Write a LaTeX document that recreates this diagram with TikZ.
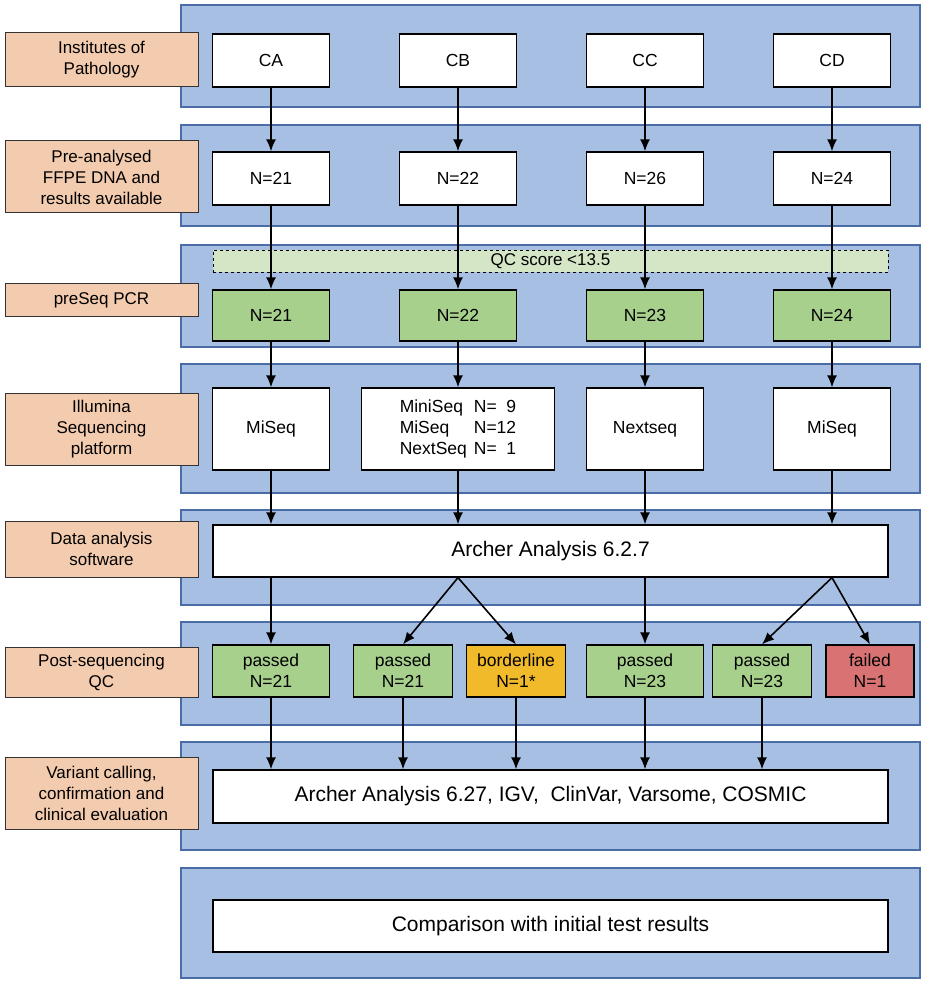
\documentclass[tikz,border=0pt]{standalone}
\usepackage{fontspec}
\setmainfont{Liberation Sans}
\usetikzlibrary{arrows.meta}
\usetikzlibrary{positioning}
\definecolor{bandblue}{HTML}{A7BFE2}
\definecolor{bandline}{HTML}{4A6DA7}
\definecolor{labfill}{HTML}{F3CBAE}
\definecolor{okgreen}{HTML}{A8D08D}
\definecolor{qcgreen}{HTML}{D4E6C6}
\definecolor{bordery}{HTML}{F0BA2A}
\definecolor{failred}{HTML}{D97373}
\tikzset{
  band/.style={draw=bandline,fill=bandblue,line width=1.6pt},
  lab/.style={draw=black!80,fill=labfill,line width=1pt,align=center,inner sep=1pt,font=\fontsize{17}{21}\selectfont},
  box/.style={draw=black,fill=white,line width=1.3pt,align=center,inner sep=1pt,font=\fontsize{17.5}{21}\selectfont},
  flow/.style={-{Latex[length=12pt,width=10pt]},line width=1.6pt}
}
\begin{document}
\begin{tikzpicture}[x=1pt,y=-1pt]
        \useasboundingbox (0,0) rectangle (926,984);
        % bands
        \foreach \ya/\yb in {5/107,125/226,245/347,364/493,510/605,622/725,742/850,868/978}
            \fill[band] (181,\ya) rectangle (920,\yb);
        % row labels
        \node [lab,minimum width=193,minimum height=54] (l1) at (101.5,60) {Institutes of\\Pathology};
        \node [lab,minimum width=193,minimum height=72] (l2) at (101.5,177) {Pre-analysed\\FFPE DNA and\\results available};
        \node [lab,minimum width=193,minimum height=33] (l3) at (101.5,300) {preSeq PCR};
        \node [lab,minimum width=193,minimum height=72] (l4) at (101.5,429) {Illumina\\Sequencing\\platform};
        \node [lab,minimum width=193,minimum height=56] (l5) at (101.5,549) {Data analysis\\software};
        \node [lab,minimum width=193,minimum height=50] (l6) at (101.5,672) {Post-sequencing\\QC};
        \node [lab,minimum width=193,minimum height=72] (l7) at (101.5,793) {Variant calling,\\confirmation and\\clinical evaluation};
        % institutes
        \foreach \n/\x/\t in {a/271/CA,b/458/CB,c/645/CC,d/832/CD}
            \node [box,minimum width=117,minimum height=53] (i\n) at (\x,60.5) {\t};
        \foreach \n/\x/\t in {a/271/21,b/458/22,c/645/26,d/832/24}
            \node [box,minimum width=117,minimum height=53] (s\n) at (\x,178.5) {N=\t};
        \node [draw=black,dashed,fill=qcgreen,minimum width=675,minimum height=22,inner sep=0pt,font=\fontsize{17}{19}\selectfont] (qc) at (550.5,261) {QC score <13.5};
        \foreach \n/\x/\t in {a/271/21,b/458/22,c/645/23,d/832/24}
            \node [box,fill=okgreen,minimum width=117,minimum height=51] (p\n) at (\x,315.5) {N=\t};
        % platforms
        \node [box,minimum width=117,minimum height=82] (ma) at (271,429) {MiSeq};
        \node [box,minimum width=193,minimum height=82,align=left] (mb) at (458,429)
            {\begin{tabular}{@{}l@{\hspace{7pt}}l@{}}MiniSeq&N=\hphantom{1}9\\MiSeq&N=12\\NextSeq&N=\hphantom{1}1\end{tabular}};
        \node [box,minimum width=117,minimum height=82] (mc) at (645,429) {Nextseq};
        \node [box,minimum width=117,minimum height=82] (md) at (832,429) {MiSeq};
        \node [box,minimum width=675,minimum height=52,font=\fontsize{21}{24}\selectfont] (arch) at (550.5,551) {Archer Analysis 6.2.7};
        % post-sequencing QC
        \node [box,fill=okgreen,minimum width=117,minimum height=52] (qa) at (271,671) {passed\\N=21};
        \node [box,fill=okgreen,minimum width=99,minimum height=52] (qb) at (403,671) {passed\\N=21};
        \node [box,fill=bordery,minimum width=99,minimum height=52] (qbb) at (516,671) {borderline\\N=1*};
        \node [box,fill=okgreen,minimum width=117,minimum height=52] (qc1) at (645,671) {passed\\N=23};
        \node [box,fill=okgreen,minimum width=99,minimum height=52] (qd) at (762,671) {passed\\N=23};
        \node [box,fill=failred,minimum width=88,minimum height=52] (qdf) at (870,671) {failed\\N=1};
        \node [box,minimum width=675,minimum height=53,font=\fontsize{21}{24}\selectfont] (var) at (550.5,796.5) {Archer Analysis 6.27, IGV,\ \ ClinVar, Varsome, COSMIC};
        \node [box,minimum width=675,minimum height=52,font=\fontsize{21}{24}\selectfont] (cmp) at (550.5,926) {Comparison with initial test results};
        % arrows
        \foreach \n in {a,b,c,d} {
            \draw [flow] (i\n) -- (s\n);
            \draw [flow] (s\n) -- (p\n);
            \draw [flow] (p\n) -- (m\n);
            \draw [flow] (m\n.south) -- (m\n.south |- arch.north);
        }
        \draw [flow] (ma.south |- arch.south) -- (qa);
        \draw [flow] (mc.south |- arch.south) -- (qc1);
        \coordinate (sb) at (mb.south |- arch.south);
        \coordinate (sd) at (md.south |- arch.south);
        \draw [flow] (sb) -- (qb.north);
        \draw [flow] (sb) -- (qbb.north);
        \draw [flow] (sd) -- (qd.north);
        \draw [flow] (sd) -- (qdf.north);
        \foreach \q in {qa,qb,qbb,qc1,qd}
            \draw [flow] (\q.south) -- (\q.south |- var.north);
\end{tikzpicture}
\end{document}
